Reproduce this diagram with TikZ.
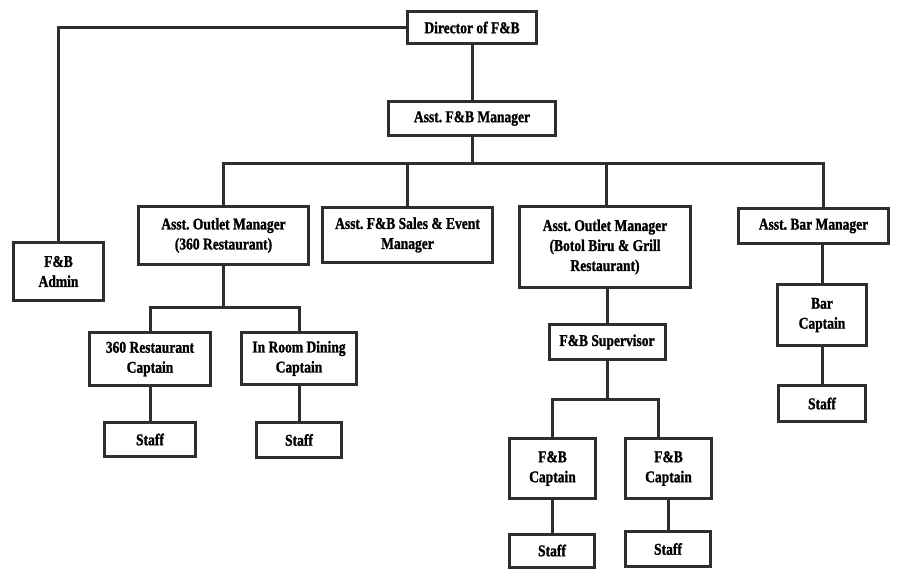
\documentclass[tikz,border=0pt]{standalone}
\usepackage{fontspec}
\setmainfont{Liberation Serif}[FakeStretch=0.82, BoldFeatures={FakeBold=1.2}]
\definecolor{ln}{HTML}{2E2E2E}
\frenchspacing
\begin{document}
\begin{tikzpicture}[x=1pt,y=-1pt,
  box/.style={draw=ln, line width=3pt, fill=white, align=center, inner sep=2pt,
    font=\fontsize{16.5}{20}\selectfont\bfseries},
  conn/.style={draw=ln, line width=3pt}]
\useasboundingbox[fill=white] (0,0) rectangle (899,570);
% nodes
\node[box, minimum width=129, minimum height=32] (dir) at (472,27.5) {Director of F\&B};
\node[box, minimum width=167, minimum height=34] (afbm) at (472,118.5) {Asst. F\&B Manager};
\node[box, minimum width=90, minimum height=58] (admin) at (58.5,271.5) {F\&B\\Admin};
\node[box, minimum width=170, minimum height=58] (aom1) at (223.5,235.5) {Asst. Outlet Manager\\(360 Restaurant)};
\node[box, minimum width=170, minimum height=55] (sales) at (407.5,235) {Asst. F\&B Sales \& Event\\Manager};
\node[box, minimum width=171, minimum height=81] (aom2) at (605,247) {Asst. Outlet Manager\\(Botol Biru \& Grill\\Restaurant)};
\node[box, minimum width=150, minimum height=35] (abm) at (813.5,226) {Asst. Bar Manager};
\node[box, minimum width=89, minimum height=61] (barcap) at (822,315) {Bar\\Captain};
\node[box, minimum width=87, minimum height=36] (barstaff) at (822,403.5) {Staff};
\node[box, minimum width=121, minimum height=53] (c360) at (150,359) {360 Restaurant\\Captain};
\node[box, minimum width=115, minimum height=52] (ird) at (299,358.5) {In Room Dining\\Captain};
\node[box, minimum width=91, minimum height=34] (s1) at (150,439.5) {Staff};
\node[box, minimum width=85, minimum height=35] (s2) at (299,440) {Staff};
\node[box, minimum width=116, minimum height=35] (sup) at (607,342) {F\&B Supervisor};
\node[box, minimum width=86, minimum height=60] (fc1) at (552.5,468.5) {F\&B\\Captain};
\node[box, minimum width=86, minimum height=60] (fc2) at (668.5,468.5) {F\&B\\Captain};
\node[box, minimum width=85, minimum height=33] (s3) at (552,550.5) {Staff};
\node[box, minimum width=85, minimum height=35] (s4) at (668,549) {Staff};
% bus coordinates
\coordinate (b1) at (472,163);
\coordinate (b2) at (223.5,307);
\coordinate (b3) at (607,399);
% connectors
\draw[conn] (dir.west) -| (admin.north);
\draw[conn] (dir.south) -- (afbm.north);
\draw[conn] (afbm.south) -- (b1);
\draw[conn] (aom1.north) |- (b1) -| ([xshift=9.5pt]abm.north);
\draw[conn] (sales.north) -- (sales.north |- b1);
\draw[conn] ([xshift=1pt]aom2.north) -- ([xshift=1pt]aom2.north |- b1);
\draw[conn] (aom1.south) -- (b2);
\draw[conn] (c360.north) |- (b2) -| (ird.north);
\draw[conn] (c360.south) -- (s1.north);
\draw[conn] (ird.south) -- (s2.north);
\draw[conn] (sup.north |- aom2.south) -- (sup.north);
\draw[conn] (sup.south) -- (b3);
\draw[conn] (fc1.north) |- (b3) -| ([xshift=-10pt]fc2.north);
\draw[conn] (fc1.south) -- (fc1.south |- s3.north);
\draw[conn] (fc2.south) -- (fc2.south |- s4.north);
\draw[conn] (barcap.north) -- (barcap.north |- abm.south);
\draw[conn] (barcap.south) -- (barstaff.north);
\end{tikzpicture}
\end{document}
